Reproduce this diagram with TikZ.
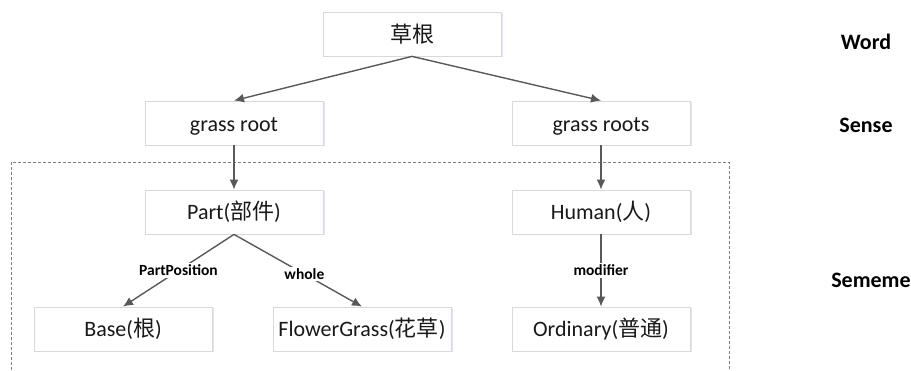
\documentclass[tikz,border=0pt]{standalone}
\usepackage{fontspec}
\setmainfont{Carlito}
\newfontfamily\cjk{Noto Sans CJK SC}
\usetikzlibrary{arrows.meta,shadows}
\definecolor{arrgray}{HTML}{595959}
\definecolor{boxline}{HTML}{D9D9D9}
\definecolor{shadowc}{HTML}{C9D3E3}
\newcommand{\lowertxt}[2]{\raisebox{-#1}[\height][\depth]{#2}}
\begin{document}
\begin{tikzpicture}[x=1pt,y=-1pt,
 box/.style={draw=boxline, line width=0.8pt, fill=white, minimum width=178pt, minimum height=44pt, inner sep=0pt,
   font=\fontsize{22}{26}\selectfont, text=black!90,
   drop shadow={shadow xshift=1.5pt, shadow yshift=-1.5pt, opacity=0.6, fill=shadowc}},
 arr/.style={draw=arrgray, line width=1.4pt, -{Latex[length=10pt,width=9pt]}},
 elab/.style={fill=white, text=black, font=\bfseries\fontsize{15.5}{18}\selectfont, inner sep=1.5pt},
 lvl/.style={font=\bfseries\fontsize{22}{26}\selectfont}]
\useasboundingbox (0,0) rectangle (911,371);
\draw[gray, line width=0.6pt, dash pattern=on 3pt off 2pt] (11,375) -- (11,162) -- (729,162) -- (729,375);
\node[box] (w) at (412,34) {{\cjk 草根}};
\node[box] (s1) at (234,123) {\lowertxt{3pt}{grass root}};
\node[box] (s2) at (601,123) {\lowertxt{3pt}{grass roots}};
\node[box] (p) at (234,212) {Part({\cjk 部件})};
\node[box] (h) at (601,212) {Human({\cjk 人})};
\node[box] (b) at (123,329) {Base({\cjk 根})};
\node[box] (f) at (362,329) {FlowerGrass({\cjk 花草})};
\node[box] (o) at (601,329) {Ordinary({\cjk 普通})};
\node[lvl] (lw) at (866,42) {Word};
\node[lvl] (ls) at (866,125) {Sense};
\node[lvl] (lm) at (871,280) {Sememe};
\draw[arr] (w.south) -- (s1.north);
\draw[arr] (w.south) -- (s2.north);
\draw[arr] (s1.south) -- (p.north);
\draw[arr] (s2.south) -- (h.north);
\draw[arr] (p.south) -- node[elab] {PartPosition} (b.north);
\draw[arr] (p.south) -- node[elab, pos=0.55] {whole} (f.north);
\draw[arr] (h.south) -- node[elab] {modifier} (o.north);
\end{tikzpicture}
\end{document}
